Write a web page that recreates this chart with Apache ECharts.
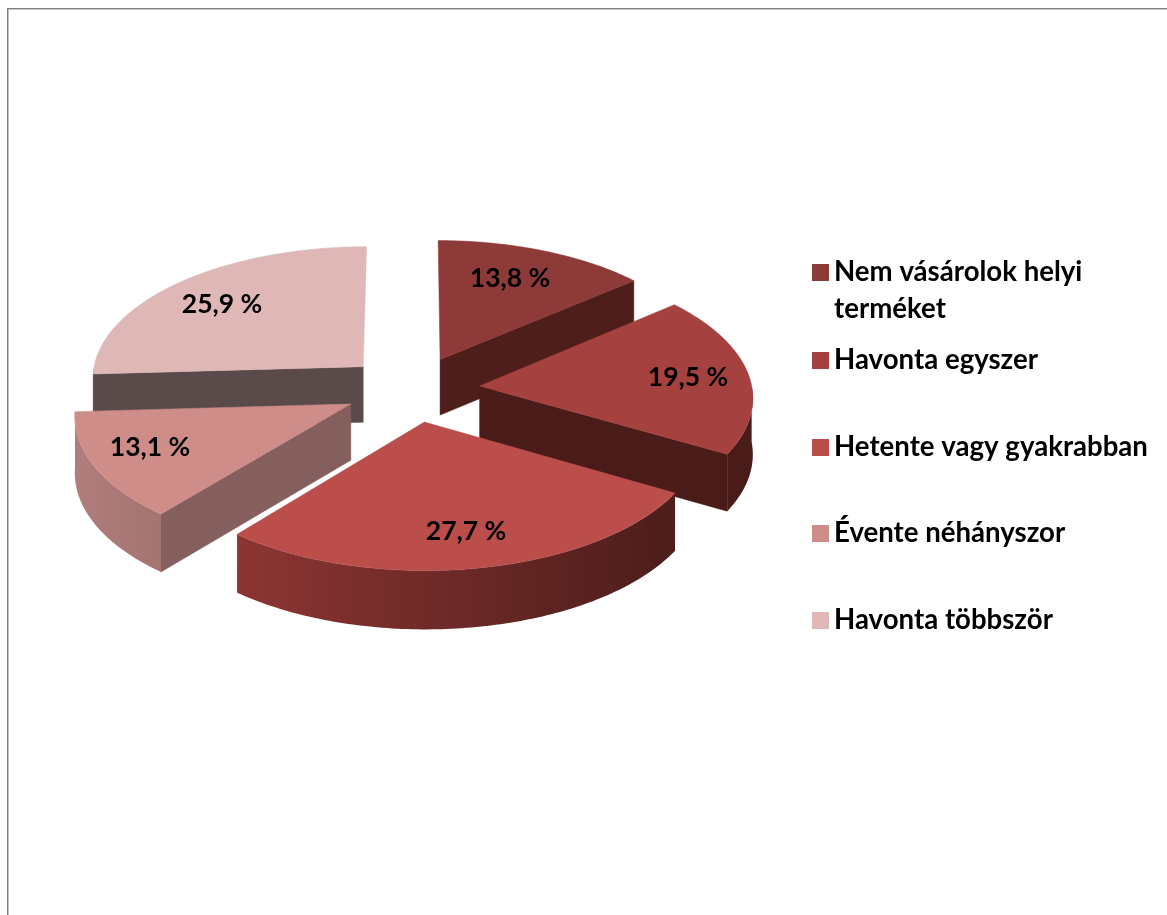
<!DOCTYPE html>
<html>
<head>
<meta charset="utf-8">
<style>
    html, body { margin: 0; padding: 0; background: #fff; }
    #chart { width: 1167px; height: 915px; }
</style>
<script src="https://cdn.jsdelivr.net/npm/echarts@6/dist/echarts.min.js"></script>
</head>
<body>
<div id="chart"></div>
<script>
    var categories = ['\nNem vásárolok helyi\nterméket', 'Havonta egyszer', 'Hetente vagy gyakrabban', 'Évente néhányszor', 'Havonta többször']
    var values = [13.8, 19.5, 27.7, 13.1, 25.9]
    var topColors = ['#8E3A38', '#A5413E', '#BB4E4B', '#CF8D8A', '#DFB7B7']
    var cutColors = ['#4E1E1B', '#4A1C19', '#4E1E1C', '#845F5D', '#5A4A4A']
    var rimFrom = ['#4E1E1B', '#4A1C19', '#8C3533', '#B07E7C', '#5A4A4A']
    var rimTo = ['#4E1E1B', '#4A1C19', '#4C1D1B', '#A47472', '#5A4A4A']

    // layout of the tilted pie
    var cx = 412, cy = 389, radius = 272.5, explode = 68
    var tilt = 0.485, persp = 0.075, depth = 56
    var labelPos = [[510, 278], [688, 377], [466, 531], [150, 447], [222, 304]]
    var legendTop = [217, 342, 429, 515, 602]

    var total = values.reduce(function (a, b) { return a + b }, 0)
    var toRad = Math.PI * 2 / total

    // disc coordinates to screen
    function project(x, z, down) {
        var p = 1 / (1 - persp * z / radius)
        return [cx + x * p, cy + z * tilt * p + (down ? depth * Math.sqrt(p) : 0)]
    }

    function arcPoints(ox, oz, a0, a1, down) {
        var pts = []
        var steps = Math.max(2, Math.ceil((a1 - a0) * 60))
        for (var k = 0; k <= steps; k++) {
            var a = a0 + (a1 - a0) * k / steps
            pts.push(project(ox + radius * Math.cos(a), oz + radius * Math.sin(a), down))
        }
        return pts
    }

    function cutFace(ox, oz, a, color, z2) {
        var rimX = ox + radius * Math.cos(a), rimZ = oz + radius * Math.sin(a)
        return {
            type: 'polygon', z2: z2,
            shape: { points: [project(ox, oz), project(rimX, rimZ), project(rimX, rimZ, true), project(ox, oz, true)] },
            style: { fill: color, stroke: color, lineWidth: 0.5 }
        }
    }

    var startAngles = []
    values.reduce(function (sum, v, i) {
        startAngles[i] = -Math.PI / 2 + sum * toRad
        return sum + v
    }, 0)

    function renderSlice(i, api) {
        var a0 = startAngles[i]
        var a1 = a0 + api.value(0) * toRad
        var mid = (a0 + a1) / 2
        var ox = explode * Math.cos(mid), oz = explode * Math.sin(mid)
        var children = []

        if (-Math.cos(a0) > 0.01) children.push(cutFace(ox, oz, a0, cutColors[i], 1))
        if (Math.cos(a1) > 0.01) children.push(cutFace(ox, oz, a1, cutColors[i], 1))

        // rim only shows on the part turned to the viewer
        var r0 = Math.max(a0, 0), r1 = Math.min(a1, Math.PI)
        if (r1 > r0) {
            children.push({
                type: 'polygon', z2: 2,
                shape: { points: arcPoints(ox, oz, r0, r1).concat(arcPoints(ox, oz, r0, r1, true).reverse()) },
                style: {
                    fill: new echarts.graphic.LinearGradient(0, 0, 1, 0, [
                        { offset: 0, color: rimFrom[i] },
                        { offset: 1, color: rimTo[i] }
                    ])
                }
            })
        }

        children.push({
            type: 'polygon', z2: 3,
            shape: { points: [project(ox, oz)].concat(arcPoints(ox, oz, a0, a1)) },
            style: { fill: topColors[i], stroke: topColors[i], lineWidth: 0.5 }
        })
        children.push({
            type: 'text', z2: 4,
            style: {
                x: labelPos[i][0], y: labelPos[i][1],
                text: api.value(0).toFixed(1).replace('.', ',') + ' %',
                fill: '#000',
                font: 'bold 26.5px Lato',
                align: 'center', verticalAlign: 'middle'
            }
        })
        return { type: 'group', children: children }
    }

    // paint from the back of the pie to the front
    var paintOrder = values.map(function (v, i) {
        return Math.sin(startAngles[i] + v * toRad / 2)
    })

    var option = {
        animation: false,
        backgroundColor: '#fff',
        legend: categories.map(function (name, i) {
            return {
                data: [name],
                left: 812,
                top: legendTop[i],
                padding: 0,
                icon: 'rect',
                itemWidth: 17,
                itemHeight: 17,
                selectedMode: false,
                textStyle: { color: '#000', fontFamily: 'Lato', fontWeight: 'bold', fontSize: 27.6, lineHeight: 37 }
            }
        }),
        series: categories.map(function (name, i) {
            return {
                type: 'custom',
                name: name,
                coordinateSystem: 'none',
                z: 2 + paintOrder[i],
                itemStyle: { color: topColors[i] },
                data: [[values[i]]],
                renderItem: function (params, api) { return renderSlice(i, api) }
            }
        }),
        graphic: [
            { type: 'rect', shape: { x: 7, y: 8, width: 1160, height: 1 }, style: { fill: '#808080' } },
            { type: 'rect', shape: { x: 7, y: 9, width: 1160, height: 1 }, style: { fill: '#c8c8c8' } },
            { type: 'rect', shape: { x: 7, y: 8, width: 1, height: 907 }, style: { fill: '#808080' } },
            { type: 'rect', shape: { x: 8, y: 9, width: 1, height: 906 }, style: { fill: '#c0c0c0' } }
        ]
    }

    var chart = echarts.init(document.getElementById('chart'))
    chart.setOption(option)
</script>
</body>
</html>
